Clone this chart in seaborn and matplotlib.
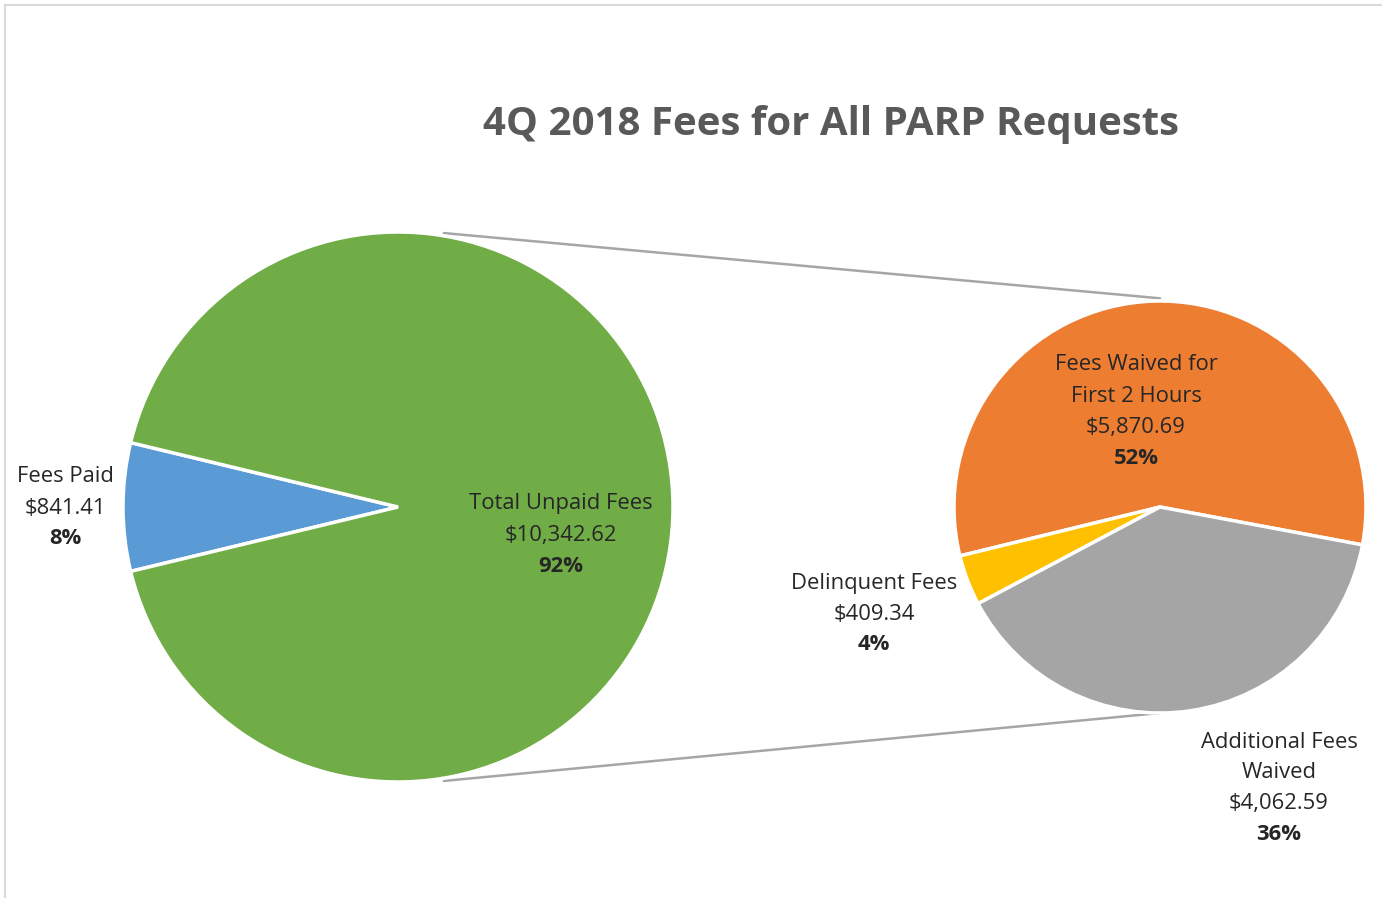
import matplotlib
matplotlib.use("Agg")
import matplotlib.pyplot as plt
import seaborn as sns
import numpy as np
from matplotlib.lines import Line2D

# data
left_names = ["Fees Paid", "Total Unpaid Fees"]
left_values = [841.41, 10342.62]
left_pcts = ["8%", "92%"]

right_names = ["Fees Waived for\nFirst 2 Hours", "Delinquent Fees", "Additional Fees\nWaived"]
right_values = [5870.69, 409.34, 4062.59]
right_pcts = ["52%", "4%", "36%"]

title = "4Q 2018 Fees for All PARP Requests"

sns.set_theme(style="white")
plt.rcParams['font.family'] = ['Open Sans', 'DejaVu Sans']

left_colors = ["#5B9BD5", "#70AD47"]
right_colors = ["#ED7D31", "#FFC000", "#A5A5A5"]

W, H = 1382, 898
fig = plt.figure(figsize=(W / 100, H / 100), dpi=100)
ax = fig.add_axes([0, 0, 1, 1])

# pixel-ish coordinates, y measured from bottom
lc, lr = (398, H - 507), 275
rc, rr = (1160, H - 507), 206

blue_share = left_values[0] / sum(left_values) * 360
ax.pie(left_values, colors=left_colors, startangle=180 - blue_share / 2,
       center=lc, radius=lr, counterclock=True,
       wedgeprops=dict(edgecolor="white", linewidth=2.5))
ax.pie(right_values, colors=right_colors, startangle=-10.6,
       center=rc, radius=rr, counterclock=True,
       wedgeprops=dict(edgecolor="white", linewidth=2.5))

# connector lines between the two pies
for ang_l, ang_r, off in [(80.5, 90, 1.013), (-80.5, -90, 1.0)]:
    p1 = (lc[0] + lr * 1.01 * np.cos(np.radians(ang_l)), lc[1] + lr * 1.01 * np.sin(np.radians(ang_l)))
    p2 = (rc[0] + rr * off * np.cos(np.radians(ang_r)), rc[1] + rr * off * np.sin(np.radians(ang_r)))
    ax.plot([p1[0], p2[0]], [p1[1], p2[1]], color="#A6A6A6", lw=1.8, zorder=0)

ax.set_xlim(0, W)
ax.set_ylim(0, H)
ax.set_aspect("equal")
ax.axis("off")

txt_color = "#262626"


def stacked_label(x, y_top, name, value, pct):
    lines = name.split("\n") + [f"${value:,.2f}"]
    y = y_top
    for ln in lines:
        ax.text(x, H - y, ln, ha="center", va="center", fontsize=15.8, color=txt_color)
        y += 31
    ax.text(x, H - y, pct, ha="center", va="center", fontsize=15.8,
            fontweight="bold", color=txt_color)


label_pos_left = [(65, 477), (561, 504)]
label_pos_right = [(1136, 365), (874, 583), (1279, 742)]

for (x, y), n, v, p in zip(label_pos_left, left_names, left_values, left_pcts):
    stacked_label(x, y, n, v, p)
for (x, y), n, v, p in zip(label_pos_right, right_names, right_values, right_pcts):
    stacked_label(x, y, n, v, p)

fig.text(831 / W, 1 - 124 / H, title, ha="center", va="center",
         fontsize=29, fontweight="bold", color="#595959")

# chart area border (only top and left visible)
fig.add_artist(Line2D([5 / W, 5 / W], [0, 1 - 5 / H], color="#D9D9D9", lw=1.5))
fig.add_artist(Line2D([5 / W, 1], [1 - 5 / H, 1 - 5 / H], color="#D9D9D9", lw=1.5))

fig.savefig("out.png", dpi=100)
